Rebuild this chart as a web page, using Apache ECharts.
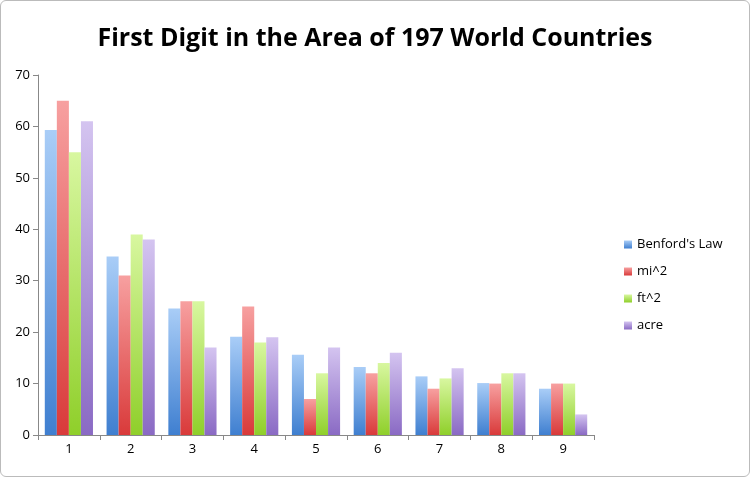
<!DOCTYPE html>
<html><head><meta charset="utf-8">
<script src="https://cdn.jsdelivr.net/npm/echarts@6/dist/echarts.min.js"></script>
<style>html,body{margin:0;padding:0;background:#fff}#c{width:750px;height:477px;box-sizing:border-box;border:1px solid #bbb;border-radius:6px}</style>
</head><body><div id="c"></div>
<script>
const categories=['1','2','3','4','5','6','7','8','9'];
const benford=[59.3,34.7,24.6,19.1,15.6,13.2,11.4,10.1,9.0];
const mi2=[65,31,26,25,7,12,9,10,10];
const ft2=[55,39,26,18,12,14,11,12,10];
const acre=[61,38,17,19,17,16,13,12,4];
const yTicks={min:0,max:70,interval:10};
function grad(top,bot){return new echarts.graphic.LinearGradient(0,0,0,1,[{offset:0,color:top},{offset:1,color:bot}]);}
const chart=echarts.init(document.getElementById('c'));
const mk=(name,data,t,b)=>({name,type:'bar',data,barGap:'0%',barCategoryGap:'22%',itemStyle:{color:grad(t,b)}});
chart.setOption({
 animation:false,
 title:{text:'First Digit in the Area of 197 World Countries',left:'center',top:20,textStyle:{fontFamily:'Open Sans',fontSize:25,fontWeight:'bold',color:'#000'}},
 legend:{orient:'vertical',left:618,top:232,itemGap:14,itemWidth:8,itemHeight:8,icon:'rect',textStyle:{fontFamily:'Open Sans',fontSize:13,color:'#000'}},
 grid:{left:37,right:155,top:74,bottom:41},
 xAxis:{type:'category',data:categories,axisTick:{show:true,alignWithLabel:false,length:5,lineStyle:{color:'#888'}},axisLine:{lineStyle:{color:'#888'}},axisLabel:{color:'#000',fontSize:13,fontFamily:'Open Sans'}},
 yAxis:{type:'value',min:yTicks.min,max:yTicks.max,interval:yTicks.interval,splitLine:{show:false},axisLine:{show:true,lineStyle:{color:'#888'}},axisTick:{show:true,length:5,lineStyle:{color:'#888'}},axisLabel:{color:'#000',fontSize:13,fontFamily:'Open Sans'}},
 series:[mk("Benford's Law",benford,'#a9cdf7','#3f7fd0'),mk('mi^2',mi2,'#f7a0a0','#d93a3a'),mk('ft^2',ft2,'#d8f7a0','#8fcf2a'),mk('acre',acre,'#d4c4f0','#8a6ac4')]
});
</script></body></html>
